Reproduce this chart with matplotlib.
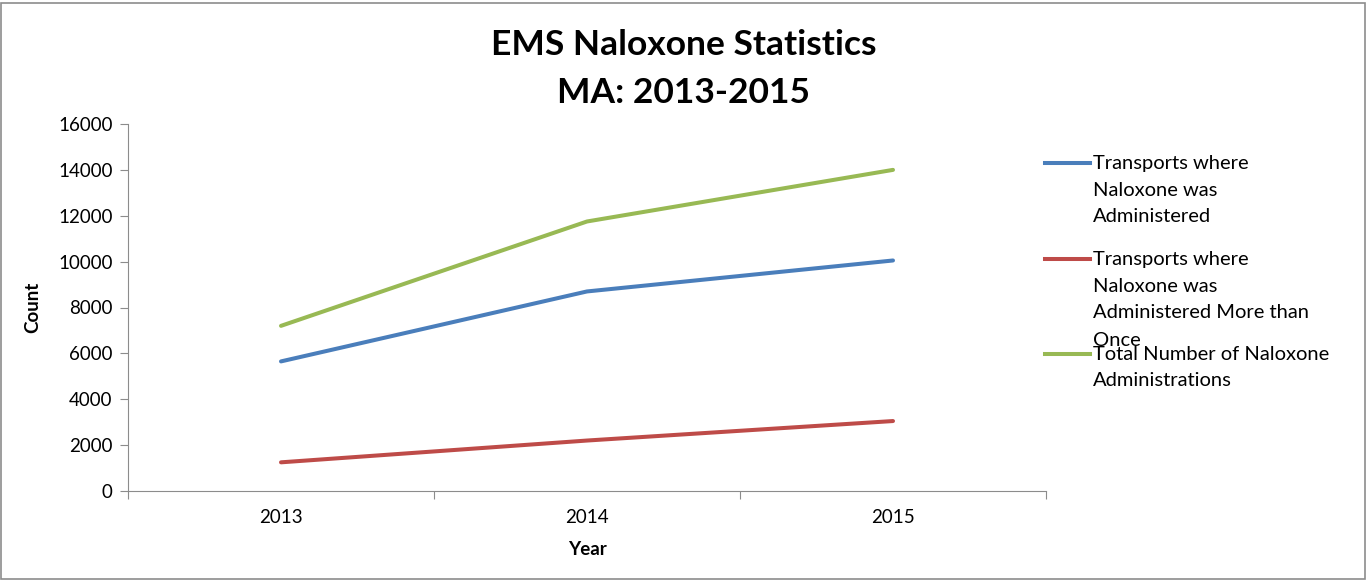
import matplotlib.pyplot as plt
from matplotlib.lines import Line2D
from matplotlib.patches import Rectangle
from matplotlib.ticker import FixedLocator, NullFormatter

plt.rcParams['font.family'] = ['Lato', 'DejaVu Sans']

# data
years = ['2013', '2014', '2015']
transports = [5650, 8700, 10050]
transports_multi = [1250, 2200, 3050]
total_admin = [7200, 11750, 14000]

series_labels = [
    ['Transports where', 'Naloxone was', 'Administered'],
    ['Transports where', 'Naloxone was', 'Administered More than', 'Once'],
    ['Total Number of Naloxone', 'Administrations'],
]
colors = ['#4A7EBB', '#BE4B48', '#98B954']

W, H = 1367, 580
fig = plt.figure(figsize=(W / 100, H / 100), dpi=100)

# outer chart border
fig.add_artist(Rectangle((1 / W, 1 / H), 1 - 3 / W, 1 - 4 / H, transform=fig.transFigure,
                         fill=False, edgecolor='#8c8c8c', linewidth=1.2))

ax = fig.add_axes([128 / W, 1 - 491 / H, (1046 - 128) / W, (491 - 124) / H])

x = list(range(len(years)))
for vals, c in zip([transports, transports_multi, total_admin], colors):
    ax.plot(x, vals, color=c, linewidth=2.9, solid_capstyle='round')

ax.set_xlim(-0.5, len(years) - 0.5)
ax.set_ylim(0, 16000)
ax.set_yticks(range(0, 16001, 2000))

# category ticks between groups, labels centered
ax.xaxis.set_major_locator(FixedLocator([i - 0.5 for i in range(len(years) + 1)]))
ax.xaxis.set_major_formatter(NullFormatter())
ax.xaxis.set_minor_locator(FixedLocator(x))
ax.set_xticklabels(years, minor=True)
ax.tick_params(axis='x', which='minor', length=0, pad=13, labelsize=13.5)
ax.tick_params(axis='x', which='major', length=6, color='#8c8c8c')
ax.tick_params(axis='y', length=6, color='#8c8c8c', labelsize=13.5, pad=5)

for s in ['top', 'right']:
    ax.spines[s].set_visible(False)
for s in ['left', 'bottom']:
    ax.spines[s].set_color('#8c8c8c')

ax.set_ylabel('Count', fontsize=13.5, fontweight='bold', labelpad=12)
ax.set_xlabel('Year', fontsize=13.5, fontweight='bold', labelpad=11)

fig.text(0.5, 1 - 45 / H, 'EMS Naloxone Statistics', ha='center', va='center',
         fontsize=25.5, fontweight='bold')
fig.text(0.5, 1 - 93 / H, 'MA: 2013-2015', ha='center', va='center',
         fontsize=25.5, fontweight='bold')

# legend drawn by hand to mimic the wrapped labels
entry_tops = [163, 259, 354]
line_gap = 27
for lines, c, top in zip(series_labels, colors, entry_tops):
    fig.add_artist(Line2D([1045 / W, 1090 / W], [1 - top / H, 1 - top / H],
                          color=c, linewidth=2.9, transform=fig.transFigure))
    for i, t in enumerate(lines):
        fig.text(1093 / W, 1 - (top + i * line_gap) / H, t, ha='left', va='center',
                 fontsize=14.5)

fig.savefig('out.png', dpi=100)
